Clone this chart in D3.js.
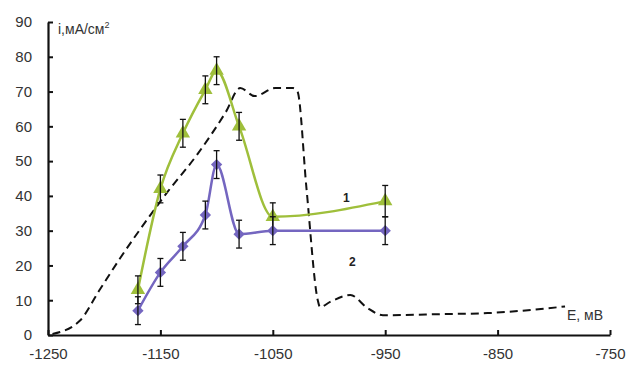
<!DOCTYPE html>
<meta charset="utf-8">
<body style="margin:0;background:#fff">
<script src="https://cdn.jsdelivr.net/npm/d3@7"></script>
<script>
// potentials, mV
var potentials = [-1170, -1150, -1130, -1110, -1100, -1080, -1050, -950];
// curve 1 (triangles) and curve 2 (diamonds), mA/cm2
var curve1 = [13, 42, 58, 70.5, 76, 60, 34, 38.5];
var curve1Err = [4, 4, 4, 4, 4, 4, 4, 4.5];
var curve2 = [7, 18, 25.5, 34.5, 49, 29, 30, 30];
var curve2Err = [4, 4, 4, 4, 4, 4, 4, 4];
// dashed polarisation curve
var dashE = [-1246, -1222, -1204, -1186, -1160, -1144, -1117, -1092, -1079, -1066, -1048, -1032, -1028, -1020, -1010, -1008, -999, -981, -966, -952, -900, -859, -790];
var dashI = [0.3, 4, 13, 22, 34, 41, 52, 64, 71, 68.7, 71, 71, 70, 42, 10, 8, 9.5, 11.5, 7.8, 5.7, 6, 6.3, 8.2];

var xTicks = [-1250, -1150, -1050, -950, -850, -750];
var yTicks = [0, 10, 20, 30, 40, 50, 60, 70, 80, 90];

var width = 630, height = 365;

var svg = d3.select("body").append("svg")
    .attr("width", width)
    .attr("height", height)
    .style("font-family", "'Liberation Sans', Arial, sans-serif");

var x = d3.scaleLinear().domain([-1250, -750]).range([48, 610]);
var y = d3.scaleLinear().domain([0, 90]).range([335, 22]);

// axes, ticks point inward
var yAxis = svg.append("g")
    .attr("transform", "translate(48,0)")
    .call(d3.axisLeft(y).tickValues(yTicks).tickSizeInner(-5).tickSizeOuter(0).tickPadding(16));
var xAxis = svg.append("g")
    .attr("transform", "translate(0,335)")
    .call(d3.axisBottom(x).tickValues(xTicks).tickFormat(d3.format("d")).tickSizeInner(-5).tickSizeOuter(0).tickPadding(13));

[xAxis, yAxis].forEach(function(a) {
    a.select(".domain").attr("stroke", "#111").attr("stroke-width", 2.2);
    a.selectAll(".tick line").attr("stroke", "#111").attr("stroke-width", 2);
    a.selectAll("text").attr("fill", "#333").style("font-size", "15px")
        .text(function(d) { return String(d); });
});

var line = d3.line()
    .x(function(d) { return x(d[0]); })
    .y(function(d) { return y(d[1]); })
    .curve(d3.curveMonotoneX);

// dashed curve
var dash = dashE.map(function(e, i) { return [e, dashI[i]]; });
svg.append("path")
    .datum(dash)
    .attr("fill", "none")
    .attr("stroke", "#111")
    .attr("stroke-width", 2)
    .attr("stroke-dasharray", "8,5")
    .attr("d", line);

var series = [
    {vals: curve1, err: curve1Err, color: "#9fbf3b", symbol: d3.symbolTriangle, size: 90, rot: 0},
    {vals: curve2, err: curve2Err, color: "#7466c0", symbol: d3.symbolSquare, size: 64, rot: 45}
];

series.forEach(function(s) {
    var pts = potentials.map(function(e, i) { return [e, s.vals[i], s.err[i]]; });

    svg.append("path")
        .datum(pts)
        .attr("fill", "none")
        .attr("stroke", s.color)
        .attr("stroke-width", 2.5)
        .attr("d", line);

    var g = svg.append("g");
    g.selectAll("path.mark")
        .data(pts)
        .enter().append("path")
        .attr("class", "mark")
        .attr("fill", s.color)
        .attr("transform", function(d) {
            return "translate(" + x(d[0]) + "," + y(d[1]) + ") rotate(" + s.rot + ")";
        })
        .attr("d", d3.symbol().type(s.symbol).size(s.size));

    // error bars
    var eb = g.selectAll("g.err")
        .data(pts)
        .enter().append("g")
        .attr("class", "err")
        .attr("stroke", "#111")
        .attr("stroke-width", 1.3);
    eb.append("line")
        .attr("x1", function(d) { return x(d[0]); })
        .attr("x2", function(d) { return x(d[0]); })
        .attr("y1", function(d) { return y(d[1] + d[2]); })
        .attr("y2", function(d) { return y(d[1] - d[2]); });
    eb.append("line")
        .attr("x1", function(d) { return x(d[0]) - 3; })
        .attr("x2", function(d) { return x(d[0]) + 3; })
        .attr("y1", function(d) { return y(d[1] + d[2]); })
        .attr("y2", function(d) { return y(d[1] + d[2]); });
    eb.append("line")
        .attr("x1", function(d) { return x(d[0]) - 3; })
        .attr("x2", function(d) { return x(d[0]) + 3; })
        .attr("y1", function(d) { return y(d[1] - d[2]); })
        .attr("y2", function(d) { return y(d[1] - d[2]); });
});

// axis titles
var yt = svg.append("text")
    .attr("x", 58).attr("y", 34)
    .attr("fill", "#333")
    .style("font-size", "14px")
    .text("i,мА/см");
yt.append("tspan").attr("dy", -6).style("font-size", "9px").text("2");

svg.append("text")
    .attr("x", 567).attr("y", 320)
    .attr("fill", "#333")
    .style("font-size", "14px")
    .text("E, мВ");

// curve numbers
svg.append("text").attr("x", 343).attr("y", 202)
    .style("font-size", "12px").style("font-weight", "bold").attr("fill", "#222").text("1");
svg.append("text").attr("x", 349).attr("y", 266)
    .style("font-size", "12px").style("font-weight", "bold").attr("fill", "#222").text("2");
</script>
</body>
